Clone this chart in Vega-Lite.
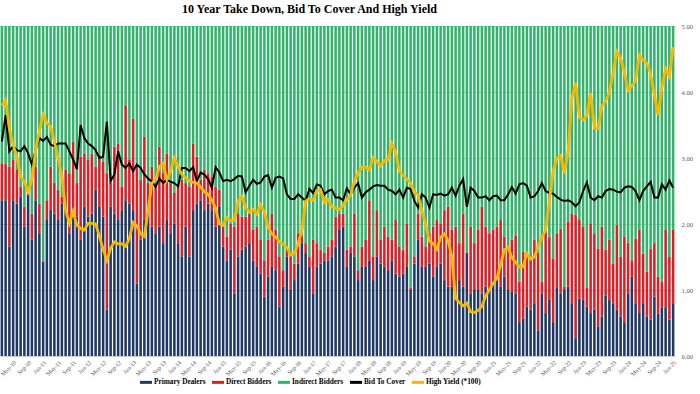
{
"$schema": "https://vega.github.io/schema/vega-lite/v6.json",
"width": 675, "height": 330,
"autosize": {"type": "none"},
"padding": {"left": 0, "top": 26, "right": 25, "bottom": 38},
"background": "white",
"config": {"view": {"stroke": null}, "font": "Liberation Serif"},
"title": {"text": "10 Year Take Down, Bid To Cover And High Yield", "font": "Liberation Serif", "fontSize": 12, "fontWeight": "bold", "color": "#000000", "anchor": "middle", "dx": -28, "offset": 7},
"data": {"values": [
{"month":"Feb-10","Primary Dealers":2.36,"Direct Bidders":0.56,"Indirect Bidders":2.08,"Bid To Cover":3.25,"High Yield":3.80},
{"month":"Mar-10","Primary Dealers":2.36,"Direct Bidders":0.56,"Indirect Bidders":2.08,"Bid To Cover":3.65,"High Yield":3.88},
{"month":"Apr-10","Primary Dealers":1.66,"Direct Bidders":1.21,"Indirect Bidders":2.13,"Bid To Cover":3.10,"High Yield":3.45},
{"month":"May-10","Primary Dealers":2.36,"Direct Bidders":0.61,"Indirect Bidders":2.03,"Bid To Cover":3.18,"High Yield":3.20},
{"month":"Jun-10","Primary Dealers":2.31,"Direct Bidders":0.51,"Indirect Bidders":2.18,"Bid To Cover":3.12,"High Yield":3.02},
{"month":"Jul-10","Primary Dealers":2.41,"Direct Bidders":0.16,"Indirect Bidders":2.43,"Bid To Cover":3.10,"High Yield":2.72},
{"month":"Aug-10","Primary Dealers":1.96,"Direct Bidders":0.30,"Indirect Bidders":2.74,"Bid To Cover":3.18,"High Yield":2.64},
{"month":"Sep-10","Primary Dealers":2.44,"Direct Bidders":0.03,"Indirect Bidders":2.53,"Bid To Cover":3.07,"High Yield":2.49},
{"month":"Oct-10","Primary Dealers":1.76,"Direct Bidders":0.40,"Indirect Bidders":2.84,"Bid To Cover":2.90,"High Yield":2.67},
{"month":"Nov-10","Primary Dealers":2.36,"Direct Bidders":0.51,"Indirect Bidders":2.13,"Bid To Cover":3.12,"High Yield":3.12},
{"month":"Dec-10","Primary Dealers":1.86,"Direct Bidders":0.45,"Indirect Bidders":2.69,"Bid To Cover":3.30,"High Yield":3.40},
{"month":"Jan-11","Primary Dealers":1.43,"Direct Bidders":0.02,"Indirect Bidders":3.55,"Bid To Cover":3.26,"High Yield":3.66},
{"month":"Feb-11","Primary Dealers":2.06,"Direct Bidders":0.30,"Indirect Bidders":2.64,"Bid To Cover":3.32,"High Yield":3.53},
{"month":"Mar-11","Primary Dealers":2.21,"Direct Bidders":0.66,"Indirect Bidders":2.13,"Bid To Cover":3.20,"High Yield":3.48},
{"month":"Apr-11","Primary Dealers":2.16,"Direct Bidders":0.46,"Indirect Bidders":2.38,"Bid To Cover":3.18,"High Yield":3.25},
{"month":"May-11","Primary Dealers":2.06,"Direct Bidders":0.46,"Indirect Bidders":2.48,"Bid To Cover":3.22,"High Yield":3.00},
{"month":"Jun-11","Primary Dealers":2.31,"Direct Bidders":0.10,"Indirect Bidders":2.59,"Bid To Cover":3.22,"High Yield":2.72},
{"month":"Jul-11","Primary Dealers":2.31,"Direct Bidders":0.51,"Indirect Bidders":2.18,"Bid To Cover":3.22,"High Yield":2.21},
{"month":"Aug-11","Primary Dealers":1.86,"Direct Bidders":0.91,"Indirect Bidders":2.23,"Bid To Cover":3.10,"High Yield":2.01},
{"month":"Sep-11","Primary Dealers":2.21,"Direct Bidders":1.04,"Indirect Bidders":1.75,"Bid To Cover":2.98,"High Yield":2.19},
{"month":"Oct-11","Primary Dealers":2.11,"Direct Bidders":0.51,"Indirect Bidders":2.38,"Bid To Cover":2.83,"High Yield":1.98},
{"month":"Nov-11","Primary Dealers":1.76,"Direct Bidders":1.26,"Indirect Bidders":1.98,"Bid To Cover":3.50,"High Yield":1.93},
{"month":"Dec-11","Primary Dealers":2.26,"Direct Bidders":0.81,"Indirect Bidders":1.93,"Bid To Cover":3.30,"High Yield":1.91},
{"month":"Jan-12","Primary Dealers":2.11,"Direct Bidders":0.86,"Indirect Bidders":2.03,"Bid To Cover":3.22,"High Yield":2.01},
{"month":"Feb-12","Primary Dealers":2.16,"Direct Bidders":0.91,"Indirect Bidders":1.93,"Bid To Cover":3.18,"High Yield":2.01},
{"month":"Mar-12","Primary Dealers":2.52,"Direct Bidders":0.35,"Indirect Bidders":2.13,"Bid To Cover":3.12,"High Yield":2.00},
{"month":"Apr-12","Primary Dealers":2.26,"Direct Bidders":0.79,"Indirect Bidders":1.95,"Bid To Cover":3.00,"High Yield":1.82},
{"month":"May-12","Primary Dealers":2.11,"Direct Bidders":0.83,"Indirect Bidders":2.06,"Bid To Cover":3.02,"High Yield":1.62},
{"month":"Jun-12","Primary Dealers":0.70,"Direct Bidders":2.07,"Indirect Bidders":2.23,"Bid To Cover":3.55,"High Yield":1.45},
{"month":"Jul-12","Primary Dealers":2.26,"Direct Bidders":0.36,"Indirect Bidders":2.38,"Bid To Cover":2.65,"High Yield":1.63},
{"month":"Aug-12","Primary Dealers":2.16,"Direct Bidders":1.01,"Indirect Bidders":1.83,"Bid To Cover":2.75,"High Yield":1.73},
{"month":"Sep-12","Primary Dealers":2.06,"Direct Bidders":1.16,"Indirect Bidders":1.78,"Bid To Cover":3.10,"High Yield":1.70},
{"month":"Oct-12","Primary Dealers":2.21,"Direct Bidders":0.36,"Indirect Bidders":2.43,"Bid To Cover":2.90,"High Yield":1.70},
{"month":"Nov-12","Primary Dealers":2.36,"Direct Bidders":1.44,"Indirect Bidders":1.20,"Bid To Cover":2.85,"High Yield":1.66},
{"month":"Dec-12","Primary Dealers":2.31,"Direct Bidders":0.66,"Indirect Bidders":2.03,"Bid To Cover":2.92,"High Yield":1.78},
{"month":"Jan-13","Primary Dealers":2.21,"Direct Bidders":1.39,"Indirect Bidders":1.40,"Bid To Cover":2.80,"High Yield":2.02},
{"month":"Feb-13","Primary Dealers":1.10,"Direct Bidders":1.77,"Indirect Bidders":2.13,"Bid To Cover":2.90,"High Yield":1.97},
{"month":"Mar-13","Primary Dealers":1.76,"Direct Bidders":0.91,"Indirect Bidders":2.33,"Bid To Cover":2.85,"High Yield":1.85},
{"month":"Apr-13","Primary Dealers":2.06,"Direct Bidders":1.26,"Indirect Bidders":1.68,"Bid To Cover":2.75,"High Yield":1.81},
{"month":"May-13","Primary Dealers":2.16,"Direct Bidders":0.46,"Indirect Bidders":2.38,"Bid To Cover":2.69,"High Yield":2.21},
{"month":"Jun-13","Primary Dealers":1.96,"Direct Bidders":0.91,"Indirect Bidders":2.13,"Bid To Cover":2.64,"High Yield":2.62},
{"month":"Jul-13","Primary Dealers":1.86,"Direct Bidders":0.76,"Indirect Bidders":2.38,"Bid To Cover":2.56,"High Yield":2.67},
{"month":"Aug-13","Primary Dealers":1.96,"Direct Bidders":1.21,"Indirect Bidders":1.83,"Bid To Cover":2.69,"High Yield":2.87},
{"month":"Sep-13","Primary Dealers":1.71,"Direct Bidders":1.06,"Indirect Bidders":2.23,"Bid To Cover":2.62,"High Yield":2.92},
{"month":"Oct-13","Primary Dealers":2.06,"Direct Bidders":1.01,"Indirect Bidders":1.93,"Bid To Cover":2.67,"High Yield":2.67},
{"month":"Nov-13","Primary Dealers":1.86,"Direct Bidders":0.76,"Indirect Bidders":2.38,"Bid To Cover":2.64,"High Yield":2.80},
{"month":"Dec-13","Primary Dealers":2.01,"Direct Bidders":0.46,"Indirect Bidders":2.53,"Bid To Cover":2.62,"High Yield":3.00},
{"month":"Jan-14","Primary Dealers":1.71,"Direct Bidders":0.86,"Indirect Bidders":2.43,"Bid To Cover":2.57,"High Yield":2.87},
{"month":"Feb-14","Primary Dealers":1.51,"Direct Bidders":1.16,"Indirect Bidders":2.33,"Bid To Cover":2.85,"High Yield":2.75},
{"month":"Mar-14","Primary Dealers":1.96,"Direct Bidders":0.66,"Indirect Bidders":2.38,"Bid To Cover":2.85,"High Yield":2.70},
{"month":"Apr-14","Primary Dealers":1.51,"Direct Bidders":1.06,"Indirect Bidders":2.43,"Bid To Cover":2.80,"High Yield":2.65},
{"month":"May-14","Primary Dealers":2.21,"Direct Bidders":1.01,"Indirect Bidders":1.78,"Bid To Cover":2.86,"High Yield":2.63},
{"month":"Jun-14","Primary Dealers":2.31,"Direct Bidders":0.71,"Indirect Bidders":1.98,"Bid To Cover":2.65,"High Yield":2.62},
{"month":"Jul-14","Primary Dealers":2.36,"Direct Bidders":0.31,"Indirect Bidders":2.33,"Bid To Cover":2.78,"High Yield":2.56},
{"month":"Aug-14","Primary Dealers":2.21,"Direct Bidders":0.61,"Indirect Bidders":2.18,"Bid To Cover":2.75,"High Yield":2.49},
{"month":"Sep-14","Primary Dealers":2.31,"Direct Bidders":0.46,"Indirect Bidders":2.23,"Bid To Cover":2.68,"High Yield":2.45},
{"month":"Oct-14","Primary Dealers":2.21,"Direct Bidders":0.51,"Indirect Bidders":2.28,"Bid To Cover":2.55,"High Yield":2.36},
{"month":"Nov-14","Primary Dealers":1.96,"Direct Bidders":0.61,"Indirect Bidders":2.43,"Bid To Cover":2.86,"High Yield":2.24},
{"month":"Dec-14","Primary Dealers":2.26,"Direct Bidders":0.26,"Indirect Bidders":2.48,"Bid To Cover":2.78,"High Yield":2.00},
{"month":"Jan-15","Primary Dealers":1.66,"Direct Bidders":0.30,"Indirect Bidders":3.04,"Bid To Cover":2.65,"High Yield":1.98},
{"month":"Feb-15","Primary Dealers":1.45,"Direct Bidders":0.36,"Indirect Bidders":3.19,"Bid To Cover":2.67,"High Yield":2.10},
{"month":"Mar-15","Primary Dealers":1.61,"Direct Bidders":0.40,"Indirect Bidders":2.99,"Bid To Cover":2.65,"High Yield":2.05},
{"month":"Apr-15","Primary Dealers":0.95,"Direct Bidders":1.01,"Indirect Bidders":3.04,"Bid To Cover":2.68,"High Yield":2.05},
{"month":"May-15","Primary Dealers":1.51,"Direct Bidders":0.65,"Indirect Bidders":2.84,"Bid To Cover":2.73,"High Yield":2.35},
{"month":"Jun-15","Primary Dealers":1.61,"Direct Bidders":0.50,"Indirect Bidders":2.89,"Bid To Cover":2.72,"High Yield":2.42},
{"month":"Jul-15","Primary Dealers":1.66,"Direct Bidders":0.45,"Indirect Bidders":2.89,"Bid To Cover":2.48,"High Yield":2.25},
{"month":"Aug-15","Primary Dealers":1.71,"Direct Bidders":0.45,"Indirect Bidders":2.84,"Bid To Cover":2.58,"High Yield":2.18},
{"month":"Sep-15","Primary Dealers":1.45,"Direct Bidders":0.46,"Indirect Bidders":3.09,"Bid To Cover":2.67,"High Yield":2.22},
{"month":"Oct-15","Primary Dealers":1.35,"Direct Bidders":0.61,"Indirect Bidders":3.04,"Bid To Cover":2.61,"High Yield":2.15},
{"month":"Nov-15","Primary Dealers":1.25,"Direct Bidders":0.51,"Indirect Bidders":3.24,"Bid To Cover":2.63,"High Yield":2.29},
{"month":"Dec-15","Primary Dealers":0.90,"Direct Bidders":0.55,"Indirect Bidders":3.55,"Bid To Cover":2.72,"High Yield":2.18},
{"month":"Jan-16","Primary Dealers":1.20,"Direct Bidders":0.56,"Indirect Bidders":3.24,"Bid To Cover":2.74,"High Yield":1.95},
{"month":"Feb-16","Primary Dealers":1.35,"Direct Bidders":0.81,"Indirect Bidders":2.84,"Bid To Cover":2.55,"High Yield":1.85},
{"month":"Mar-16","Primary Dealers":1.30,"Direct Bidders":0.61,"Indirect Bidders":3.09,"Bid To Cover":2.70,"High Yield":1.80},
{"month":"Apr-16","Primary Dealers":0.75,"Direct Bidders":0.76,"Indirect Bidders":3.49,"Bid To Cover":2.72,"High Yield":1.73},
{"month":"May-16","Primary Dealers":1.05,"Direct Bidders":0.25,"Indirect Bidders":3.70,"Bid To Cover":2.69,"High Yield":1.70},
{"month":"Jun-16","Primary Dealers":1.51,"Direct Bidders":0.15,"Indirect Bidders":3.34,"Bid To Cover":2.45,"High Yield":1.64},
{"month":"Jul-16","Primary Dealers":1.00,"Direct Bidders":0.56,"Indirect Bidders":3.44,"Bid To Cover":2.38,"High Yield":1.53},
{"month":"Aug-16","Primary Dealers":1.15,"Direct Bidders":0.25,"Indirect Bidders":3.60,"Bid To Cover":2.38,"High Yield":1.55},
{"month":"Sep-16","Primary Dealers":1.40,"Direct Bidders":0.46,"Indirect Bidders":3.14,"Bid To Cover":2.45,"High Yield":1.70},
{"month":"Oct-16","Primary Dealers":1.71,"Direct Bidders":0.11,"Indirect Bidders":3.18,"Bid To Cover":2.40,"High Yield":1.90},
{"month":"Nov-16","Primary Dealers":1.56,"Direct Bidders":0.15,"Indirect Bidders":3.29,"Bid To Cover":2.35,"High Yield":2.35},
{"month":"Dec-16","Primary Dealers":1.35,"Direct Bidders":0.16,"Indirect Bidders":3.49,"Bid To Cover":2.53,"High Yield":2.38},
{"month":"Jan-17","Primary Dealers":0.95,"Direct Bidders":0.81,"Indirect Bidders":3.24,"Bid To Cover":2.47,"High Yield":2.36},
{"month":"Feb-17","Primary Dealers":1.35,"Direct Bidders":0.36,"Indirect Bidders":3.29,"Bid To Cover":2.60,"High Yield":2.50},
{"month":"Mar-17","Primary Dealers":1.40,"Direct Bidders":0.21,"Indirect Bidders":3.39,"Bid To Cover":2.58,"High Yield":2.52},
{"month":"Apr-17","Primary Dealers":1.45,"Direct Bidders":0.11,"Indirect Bidders":3.44,"Bid To Cover":2.45,"High Yield":2.33},
{"month":"May-17","Primary Dealers":1.45,"Direct Bidders":0.21,"Indirect Bidders":3.34,"Bid To Cover":2.50,"High Yield":2.37},
{"month":"Jun-17","Primary Dealers":1.51,"Direct Bidders":0.25,"Indirect Bidders":3.24,"Bid To Cover":2.52,"High Yield":2.26},
{"month":"Jul-17","Primary Dealers":1.66,"Direct Bidders":0.45,"Indirect Bidders":2.89,"Bid To Cover":2.40,"High Yield":2.24},
{"month":"Aug-17","Primary Dealers":1.91,"Direct Bidders":0.25,"Indirect Bidders":2.84,"Bid To Cover":2.40,"High Yield":2.22},
{"month":"Sep-17","Primary Dealers":1.96,"Direct Bidders":0.20,"Indirect Bidders":2.84,"Bid To Cover":2.36,"High Yield":2.28},
{"month":"Oct-17","Primary Dealers":1.35,"Direct Bidders":0.26,"Indirect Bidders":3.39,"Bid To Cover":2.54,"High Yield":2.37},
{"month":"Nov-17","Primary Dealers":1.56,"Direct Bidders":0.10,"Indirect Bidders":3.34,"Bid To Cover":2.45,"High Yield":2.43},
{"month":"Dec-17","Primary Dealers":1.51,"Direct Bidders":0.65,"Indirect Bidders":2.84,"Bid To Cover":2.55,"High Yield":2.65},
{"month":"Jan-18","Primary Dealers":1.15,"Direct Bidders":0.15,"Indirect Bidders":3.70,"Bid To Cover":2.62,"High Yield":2.77},
{"month":"Feb-18","Primary Dealers":1.35,"Direct Bidders":0.31,"Indirect Bidders":3.34,"Bid To Cover":2.40,"High Yield":2.86},
{"month":"Mar-18","Primary Dealers":1.35,"Direct Bidders":0.41,"Indirect Bidders":3.24,"Bid To Cover":2.48,"High Yield":2.86},
{"month":"Apr-18","Primary Dealers":1.45,"Direct Bidders":0.91,"Indirect Bidders":2.64,"Bid To Cover":2.52,"High Yield":2.82},
{"month":"May-18","Primary Dealers":1.15,"Direct Bidders":0.36,"Indirect Bidders":3.49,"Bid To Cover":2.57,"High Yield":3.00},
{"month":"Jun-18","Primary Dealers":1.51,"Direct Bidders":0.70,"Indirect Bidders":2.79,"Bid To Cover":2.59,"High Yield":2.95},
{"month":"Jul-18","Primary Dealers":1.40,"Direct Bidders":0.36,"Indirect Bidders":3.24,"Bid To Cover":2.58,"High Yield":2.88},
{"month":"Aug-18","Primary Dealers":1.35,"Direct Bidders":0.61,"Indirect Bidders":3.04,"Bid To Cover":2.58,"High Yield":2.96},
{"month":"Sep-18","Primary Dealers":1.30,"Direct Bidders":0.51,"Indirect Bidders":3.19,"Bid To Cover":2.52,"High Yield":2.97},
{"month":"Oct-18","Primary Dealers":1.45,"Direct Bidders":0.31,"Indirect Bidders":3.24,"Bid To Cover":2.50,"High Yield":3.22},
{"month":"Nov-18","Primary Dealers":1.25,"Direct Bidders":0.81,"Indirect Bidders":2.94,"Bid To Cover":2.45,"High Yield":3.10},
{"month":"Dec-18","Primary Dealers":1.20,"Direct Bidders":0.46,"Indirect Bidders":3.34,"Bid To Cover":2.52,"High Yield":2.80},
{"month":"Jan-19","Primary Dealers":1.25,"Direct Bidders":0.36,"Indirect Bidders":3.39,"Bid To Cover":2.40,"High Yield":2.74},
{"month":"Feb-19","Primary Dealers":1.35,"Direct Bidders":0.66,"Indirect Bidders":2.99,"Bid To Cover":2.55,"High Yield":2.68},
{"month":"Mar-19","Primary Dealers":1.00,"Direct Bidders":0.04,"Indirect Bidders":3.96,"Bid To Cover":2.53,"High Yield":2.62},
{"month":"Apr-19","Primary Dealers":1.40,"Direct Bidders":0.11,"Indirect Bidders":3.49,"Bid To Cover":2.35,"High Yield":2.48},
{"month":"May-19","Primary Dealers":1.76,"Direct Bidders":0.40,"Indirect Bidders":2.84,"Bid To Cover":2.25,"High Yield":2.44},
{"month":"Jun-19","Primary Dealers":1.35,"Direct Bidders":0.46,"Indirect Bidders":3.19,"Bid To Cover":2.45,"High Yield":2.20},
{"month":"Jul-19","Primary Dealers":1.35,"Direct Bidders":0.31,"Indirect Bidders":3.34,"Bid To Cover":2.40,"High Yield":2.00},
{"month":"Aug-19","Primary Dealers":1.40,"Direct Bidders":0.46,"Indirect Bidders":3.14,"Bid To Cover":2.25,"High Yield":1.74},
{"month":"Sep-19","Primary Dealers":1.20,"Direct Bidders":0.76,"Indirect Bidders":3.04,"Bid To Cover":2.45,"High Yield":1.70},
{"month":"Oct-19","Primary Dealers":1.35,"Direct Bidders":0.71,"Indirect Bidders":2.94,"Bid To Cover":2.44,"High Yield":1.62},
{"month":"Nov-19","Primary Dealers":1.40,"Direct Bidders":0.61,"Indirect Bidders":2.99,"Bid To Cover":2.46,"High Yield":1.80},
{"month":"Dec-19","Primary Dealers":1.15,"Direct Bidders":1.06,"Indirect Bidders":2.79,"Bid To Cover":2.43,"High Yield":1.85},
{"month":"Jan-20","Primary Dealers":1.05,"Direct Bidders":1.21,"Indirect Bidders":2.74,"Bid To Cover":2.45,"High Yield":1.75},
{"month":"Feb-20","Primary Dealers":1.05,"Direct Bidders":0.86,"Indirect Bidders":3.09,"Bid To Cover":2.55,"High Yield":1.50},
{"month":"Mar-20","Primary Dealers":0.90,"Direct Bidders":1.06,"Indirect Bidders":3.04,"Bid To Cover":2.43,"High Yield":0.87},
{"month":"Apr-20","Primary Dealers":1.15,"Direct Bidders":0.56,"Indirect Bidders":3.29,"Bid To Cover":2.58,"High Yield":0.81},
{"month":"May-20","Primary Dealers":1.05,"Direct Bidders":1.11,"Indirect Bidders":2.84,"Bid To Cover":2.68,"High Yield":0.76},
{"month":"Jun-20","Primary Dealers":1.56,"Direct Bidders":0.00,"Indirect Bidders":3.44,"Bid To Cover":2.26,"High Yield":0.80},
{"month":"Jul-20","Primary Dealers":0.95,"Direct Bidders":1.01,"Indirect Bidders":3.04,"Bid To Cover":2.55,"High Yield":0.67},
{"month":"Aug-20","Primary Dealers":1.00,"Direct Bidders":0.71,"Indirect Bidders":3.29,"Bid To Cover":2.50,"High Yield":0.66},
{"month":"Sep-20","Primary Dealers":1.00,"Direct Bidders":0.91,"Indirect Bidders":3.09,"Bid To Cover":2.40,"High Yield":0.69},
{"month":"Oct-20","Primary Dealers":0.95,"Direct Bidders":1.31,"Indirect Bidders":2.74,"Bid To Cover":2.40,"High Yield":0.75},
{"month":"Nov-20","Primary Dealers":1.05,"Direct Bidders":0.91,"Indirect Bidders":3.04,"Bid To Cover":2.42,"High Yield":0.91},
{"month":"Dec-20","Primary Dealers":1.00,"Direct Bidders":0.86,"Indirect Bidders":3.14,"Bid To Cover":2.36,"High Yield":1.00},
{"month":"Jan-21","Primary Dealers":1.15,"Direct Bidders":0.76,"Indirect Bidders":3.09,"Bid To Cover":2.42,"High Yield":1.10},
{"month":"Feb-21","Primary Dealers":1.15,"Direct Bidders":0.81,"Indirect Bidders":3.04,"Bid To Cover":2.43,"High Yield":1.18},
{"month":"Mar-21","Primary Dealers":1.05,"Direct Bidders":1.01,"Indirect Bidders":2.94,"Bid To Cover":2.36,"High Yield":1.38},
{"month":"Apr-21","Primary Dealers":1.20,"Direct Bidders":0.61,"Indirect Bidders":3.19,"Bid To Cover":2.36,"High Yield":1.61},
{"month":"May-21","Primary Dealers":1.00,"Direct Bidders":0.66,"Indirect Bidders":3.34,"Bid To Cover":2.45,"High Yield":1.64},
{"month":"Jun-21","Primary Dealers":0.97,"Direct Bidders":0.79,"Indirect Bidders":3.24,"Bid To Cover":2.56,"High Yield":1.49},
{"month":"Jul-21","Primary Dealers":0.95,"Direct Bidders":0.88,"Indirect Bidders":3.17,"Bid To Cover":2.46,"High Yield":1.42},
{"month":"Aug-21","Primary Dealers":0.50,"Direct Bidders":0.63,"Indirect Bidders":3.87,"Bid To Cover":2.60,"High Yield":1.35},
{"month":"Sep-21","Primary Dealers":0.57,"Direct Bidders":1.01,"Indirect Bidders":3.42,"Bid To Cover":2.62,"High Yield":1.35},
{"month":"Oct-21","Primary Dealers":0.75,"Direct Bidders":0.83,"Indirect Bidders":3.42,"Bid To Cover":2.58,"High Yield":1.55},
{"month":"Nov-21","Primary Dealers":0.70,"Direct Bidders":0.80,"Indirect Bidders":3.50,"Bid To Cover":2.40,"High Yield":1.47},
{"month":"Dec-21","Primary Dealers":0.80,"Direct Bidders":0.96,"Indirect Bidders":3.24,"Bid To Cover":2.42,"High Yield":1.50},
{"month":"Jan-22","Primary Dealers":0.39,"Direct Bidders":1.17,"Indirect Bidders":3.44,"Bid To Cover":2.50,"High Yield":1.65},
{"month":"Feb-22","Primary Dealers":0.95,"Direct Bidders":0.18,"Indirect Bidders":3.87,"Bid To Cover":2.62,"High Yield":1.80},
{"month":"Mar-22","Primary Dealers":0.65,"Direct Bidders":1.26,"Indirect Bidders":3.09,"Bid To Cover":2.50,"High Yield":1.90},
{"month":"Apr-22","Primary Dealers":0.85,"Direct Bidders":0.96,"Indirect Bidders":3.19,"Bid To Cover":2.47,"High Yield":2.35},
{"month":"May-22","Primary Dealers":0.50,"Direct Bidders":0.98,"Indirect Bidders":3.52,"Bid To Cover":2.46,"High Yield":2.80},
{"month":"Jun-22","Primary Dealers":1.03,"Direct Bidders":0.83,"Indirect Bidders":3.14,"Bid To Cover":2.41,"High Yield":3.00},
{"month":"Jul-22","Primary Dealers":0.95,"Direct Bidders":0.98,"Indirect Bidders":3.07,"Bid To Cover":2.37,"High Yield":3.04},
{"month":"Aug-22","Primary Dealers":1.00,"Direct Bidders":0.05,"Indirect Bidders":3.95,"Bid To Cover":2.35,"High Yield":2.77},
{"month":"Sep-22","Primary Dealers":1.05,"Direct Bidders":0.99,"Indirect Bidders":2.96,"Bid To Cover":2.36,"High Yield":3.10},
{"month":"Oct-22","Primary Dealers":0.80,"Direct Bidders":1.36,"Indirect Bidders":2.84,"Bid To Cover":2.33,"High Yield":3.90},
{"month":"Nov-22","Primary Dealers":0.27,"Direct Bidders":1.87,"Indirect Bidders":2.86,"Bid To Cover":2.27,"High Yield":4.14},
{"month":"Dec-22","Primary Dealers":0.87,"Direct Bidders":1.19,"Indirect Bidders":2.94,"Bid To Cover":2.33,"High Yield":3.61},
{"month":"Jan-23","Primary Dealers":0.85,"Direct Bidders":1.11,"Indirect Bidders":3.04,"Bid To Cover":2.50,"High Yield":3.575},
{"month":"Feb-23","Primary Dealers":0.75,"Direct Bidders":0.28,"Indirect Bidders":3.97,"Bid To Cover":2.63,"High Yield":3.64},
{"month":"Mar-23","Primary Dealers":0.65,"Direct Bidders":1.36,"Indirect Bidders":2.99,"Bid To Cover":2.40,"High Yield":3.985},
{"month":"Apr-23","Primary Dealers":0.70,"Direct Bidders":1.16,"Indirect Bidders":3.14,"Bid To Cover":2.36,"High Yield":3.455},
{"month":"May-23","Primary Dealers":0.44,"Direct Bidders":1.19,"Indirect Bidders":3.37,"Bid To Cover":2.42,"High Yield":3.448},
{"month":"Jun-23","Primary Dealers":0.60,"Direct Bidders":1.36,"Indirect Bidders":3.04,"Bid To Cover":2.40,"High Yield":3.784},
{"month":"Jul-23","Primary Dealers":0.92,"Direct Bidders":0.69,"Indirect Bidders":3.39,"Bid To Cover":2.50,"High Yield":3.86},
{"month":"Aug-23","Primary Dealers":0.85,"Direct Bidders":0.91,"Indirect Bidders":3.24,"Bid To Cover":2.53,"High Yield":4.00},
{"month":"Sep-23","Primary Dealers":0.80,"Direct Bidders":0.60,"Indirect Bidders":3.60,"Bid To Cover":2.52,"High Yield":4.29},
{"month":"Oct-23","Primary Dealers":0.70,"Direct Bidders":1.29,"Indirect Bidders":3.01,"Bid To Cover":2.49,"High Yield":4.61},
{"month":"Nov-23","Primary Dealers":0.60,"Direct Bidders":0.90,"Indirect Bidders":3.50,"Bid To Cover":2.48,"High Yield":4.52},
{"month":"Dec-23","Primary Dealers":0.50,"Direct Bidders":1.31,"Indirect Bidders":3.19,"Bid To Cover":2.55,"High Yield":4.296},
{"month":"Jan-24","Primary Dealers":0.95,"Direct Bidders":0.76,"Indirect Bidders":3.29,"Bid To Cover":2.57,"High Yield":4.024},
{"month":"Feb-24","Primary Dealers":1.20,"Direct Bidders":0.25,"Indirect Bidders":3.55,"Bid To Cover":2.56,"High Yield":4.09},
{"month":"Mar-24","Primary Dealers":0.80,"Direct Bidders":0.98,"Indirect Bidders":3.22,"Bid To Cover":2.50,"High Yield":4.166},
{"month":"Apr-24","Primary Dealers":0.65,"Direct Bidders":1.26,"Indirect Bidders":3.09,"Bid To Cover":2.36,"High Yield":4.56},
{"month":"May-24","Primary Dealers":0.80,"Direct Bidders":0.75,"Indirect Bidders":3.45,"Bid To Cover":2.50,"High Yield":4.483},
{"month":"Jun-24","Primary Dealers":0.60,"Direct Bidders":0.68,"Indirect Bidders":3.72,"Bid To Cover":2.57,"High Yield":4.438},
{"month":"Jul-24","Primary Dealers":0.55,"Direct Bidders":1.08,"Indirect Bidders":3.37,"Bid To Cover":2.64,"High Yield":4.276},
{"month":"Aug-24","Primary Dealers":0.90,"Direct Bidders":0.81,"Indirect Bidders":3.29,"Bid To Cover":2.40,"High Yield":3.96},
{"month":"Sep-24","Primary Dealers":0.64,"Direct Bidders":0.56,"Indirect Bidders":3.80,"Bid To Cover":2.40,"High Yield":3.648},
{"month":"Oct-24","Primary Dealers":0.74,"Direct Bidders":0.38,"Indirect Bidders":3.88,"Bid To Cover":2.60,"High Yield":4.066},
{"month":"Nov-24","Primary Dealers":0.74,"Direct Bidders":1.17,"Indirect Bidders":3.09,"Bid To Cover":2.52,"High Yield":4.347},
{"month":"Dec-24","Primary Dealers":0.55,"Direct Bidders":0.95,"Indirect Bidders":3.50,"Bid To Cover":2.66,"High Yield":4.235},
{"month":"Jan-25","Primary Dealers":0.80,"Direct Bidders":1.11,"Indirect Bidders":3.09,"Bid To Cover":2.55,"High Yield":4.68}
]},
"encoding": {
  "x": {"field": "month", "type": "ordinal", "sort": null,
        "scale": {"paddingInner": 0.32, "paddingOuter": 0.16},
        "axis": {"title": null, "ticks": false, "domain": false, "labelAngle": -45, "labelFontSize": 6, "labelColor": "#595959", "labelFont": "Liberation Serif", "labelOverlap": false, "labelPadding": 3, "labelExpr": "indexof(['Jan','May','Sep'], slice(datum.label,0,3)) >= 0 ? datum.label : ''"}}
},
"layer": [
  {"transform": [
     {"fold": ["Primary Dealers", "Direct Bidders", "Indirect Bidders"], "as": ["series", "value"]},
     {"calculate": "indexof(['Primary Dealers','Direct Bidders','Indirect Bidders'], datum.series)", "as": "stackOrder"}
   ],
   "mark": {"type": "bar", "clip": true},
   "encoding": {
     "y": {"field": "value", "type": "quantitative", "stack": "zero",
           "scale": {"domain": [0, 5], "nice": false},
           "axis": {"orient": "right", "title": null, "values": [0, 0.5, 1, 1.5, 2, 2.5, 3, 3.5, 4, 4.5, 5], "format": ".2f", "labelFontSize": 6.5, "labelColor": "#595959", "labelFont": "Liberation Serif", "ticks": false, "domain": false, "labelPadding": 6, "grid": true, "gridColor": "#8C8C8C", "gridWidth": 0.6, "gridOpacity": 0.7}},
     "order": {"field": "stackOrder", "type": "quantitative", "sort": "ascending"},
     "color": {"field": "series", "type": "nominal",
               "sort": ["Primary Dealers", "Direct Bidders", "Indirect Bidders", "Bid To Cover", "High Yield (*100)"],
               "scale": {"domain": ["Primary Dealers", "Direct Bidders", "Indirect Bidders", "Bid To Cover", "High Yield (*100)"], "range": ["#1F3864", "#DA1F26", "#32B36B", "#000000", "#F6B800"]},
               "legend": {"title": null, "orient": "none", "legendX": 140, "legendY": 350, "direction": "horizontal", "symbolType": "M-1,-0.25H1V0.25H-1Z", "symbolSize": 144, "symbolStrokeWidth": 0, "labelFont": "Liberation Serif", "labelFontWeight": "bold", "labelFontSize": 7.3, "labelColor": "#000000", "labelOffset": 2, "columnPadding": 6, "padding": 0}}
   }},
  {"mark": {"type": "line", "strokeWidth": 2, "clip": true},
   "encoding": {"y": {"field": "Bid To Cover", "type": "quantitative"}, "color": {"datum": "Bid To Cover"}}},
  {"mark": {"type": "line", "strokeWidth": 2.8, "clip": true},
   "encoding": {"y": {"field": "High Yield", "type": "quantitative"}, "color": {"datum": "High Yield (*100)"}}}
]
}
